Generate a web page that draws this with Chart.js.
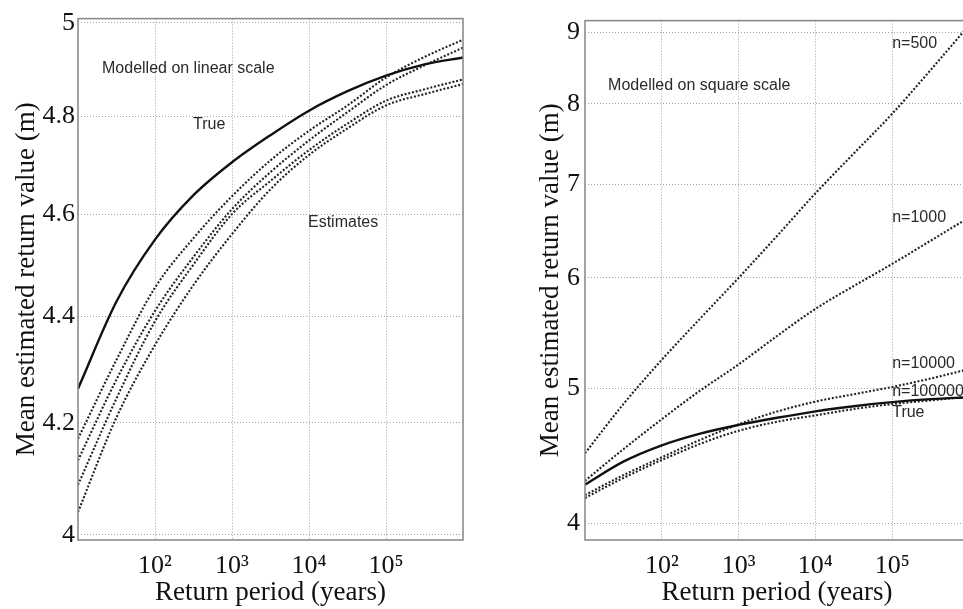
<!DOCTYPE html>
<html>
<head>
<meta charset="utf-8">
<script src="https://cdn.jsdelivr.net/npm/chart.js@4"></script>
<style>
  html, body { margin: 0; padding: 0; background: #fff; overflow: hidden; width: 963px; height: 609px; }
  #left { position: absolute; left: 0; top: 0; width: 480px; height: 609px; }
  #right { position: absolute; left: 480px; top: 0; width: 500px; height: 609px; }
</style>
</head>
<body>
<div id="left"><canvas id="c1"></canvas></div>
<div id="right"><canvas id="c2"></canvas></div>
<script>
// return periods (years), decades and half decades
const returnPeriods = [10, 31.6, 100, 316, 1000, 3162, 10000, 31623, 100000, 316228, 1000000];

// true return level, same curve on both panels
const trueLevel = [4.263, 4.428, 4.549, 4.638, 4.705, 4.761, 4.812, 4.853, 4.886, 4.910, 4.925];

// left panel: estimates modelled on linear scale
const estimate1 = [4.171, 4.317, 4.455, 4.552, 4.636, 4.709, 4.770, 4.823, 4.882, 4.926, 4.963];
const estimate2 = [4.132, 4.28, 4.41, 4.515, 4.61, 4.685, 4.75, 4.809, 4.866, 4.908, 4.946];
const estimate3 = [4.088, 4.245, 4.39, 4.50, 4.60, 4.667, 4.73, 4.785, 4.833, 4.857, 4.878];
const estimate4 = [4.040, 4.21, 4.345, 4.46, 4.56, 4.65, 4.72, 4.775, 4.823, 4.847, 4.868];

// right panel: estimates modelled on square scale, by sample size
const n500 = [4.49, 4.87, 5.24, 5.61, 6.00, 6.43, 6.90, 7.37, 7.87, 8.46, 9.11];
const n1000 = [4.29, 4.52, 4.75, 4.98, 5.20, 5.45, 5.70, 5.92, 6.14, 6.38, 6.63];
const n10000 = [4.19, 4.33, 4.46, 4.59, 4.71, 4.81, 4.89, 4.95, 5.01, 5.08, 5.16];
const n100000 = [4.17, 4.31, 4.44, 4.56, 4.66, 4.73, 4.78, 4.83, 4.87, 4.90, 4.93];

const xTicks = [100, 1000, 10000, 100000];
const leftYTicks = [4, 4.2, 4.4, 4.6, 4.8, 5];
const rightYTicks = [4, 5, 6, 7, 8, 9];

const leftNotes = [
  { text: 'Modelled on linear scale', x: 20.5, y: 4.90 },
  { text: 'True', x: 312, y: 4.782 },
  { text: 'Estimates', x: 9700, y: 4.583 }
];
const rightNotes = [
  { text: 'Modelled on square scale', x: 20, y: 8.24 },
  { text: 'n=500', x: 100000, y: 8.84 },
  { text: 'n=1000', x: 100000, y: 6.63 },
  { text: 'n=10000', x: 100000, y: 5.21 },
  { text: 'n=100000', x: 100000, y: 4.97 },
  { text: 'True', x: 100000, y: 4.80 }
];

const serif = '"Liberation Serif", "DejaVu Serif", serif';
const sup = { 2: '\u00b2', 3: '\u00b3', 4: '\u2074', 5: '\u2075' };

const frameAndNotes = {
  id: 'frameAndNotes',
  beforeDatasetsDraw(chart, args, opts) {
    const { ctx, scales } = chart;
    ctx.save();
    ctx.font = '16px "Liberation Sans", Arial, sans-serif';
    ctx.fillStyle = '#2a2a2a';
    ctx.textBaseline = 'middle';
    (opts.notes || []).forEach(n => {
      ctx.fillText(n.text, scales.x.getPixelForValue(n.x), scales.y.getPixelForValue(n.y));
    });
    ctx.restore();
  },
  afterDraw(chart) {
    const { ctx, chartArea: a } = chart;
    ctx.save();
    ctx.strokeStyle = '#858585';
    ctx.lineWidth = 1.5;
    ctx.strokeRect(a.left, a.top, a.right - a.left, a.bottom - a.top);
    ctx.restore();
  }
};

function line(values, solid) {
  return {
    data: returnPeriods.map((x, i) => ({ x, y: values[i] })),
    borderColor: solid ? '#111' : '#222',
    borderWidth: solid ? 2.4 : 2.1,
    borderDash: solid ? [] : [2, 1.8],
    pointRadius: 0,
    cubicInterpolationMode: 'monotone',
    fill: false
  };
}

function makeChart(id, datasets, yTicks, yMin, yMax, notes, pad, yWidth, titlePad, tickPad) {
  new Chart(document.getElementById(id), {
    type: 'line',
    data: { datasets },
    plugins: [frameAndNotes],
    options: {
      responsive: true,
      maintainAspectRatio: false,
      animation: false,
      layout: { padding: pad },
      plugins: {
        legend: { display: false },
        tooltip: { enabled: false },
        frameAndNotes: { notes }
      },
      scales: {
        x: {
          type: 'logarithmic',
          min: 10,
          max: 1000000,
          afterBuildTicks: s => { s.ticks = xTicks.map(v => ({ value: v })); },
          afterFit: s => { s.height = 69; },
          ticks: {
            autoSkip: false,
            maxRotation: 0,
            padding: 11,
            color: '#111',
            font: { family: serif, size: 26 },
            callback: v => '10' + sup[Math.round(Math.log10(v))]
          },
          grid: { color: '#a0a0a0', lineWidth: 1, drawTicks: false },
          border: { display: false, dash: [1, 2] },
          title: {
            display: true,
            text: 'Return period (years)',
            color: '#111',
            font: { family: serif, size: 27 },
            padding: { top: 0, bottom: 0 }
          }
        },
        y: {
          type: 'logarithmic',
          min: yMin,
          max: yMax,
          afterBuildTicks: s => { s.ticks = yTicks.map(v => ({ value: v })); },
          afterFit: s => { s.width = yWidth; },
          ticks: {
            autoSkip: false,
            padding: tickPad,
            color: '#111',
            font: { family: serif, size: 26 },
            callback: v => String(v)
          },
          grid: { color: '#a0a0a0', lineWidth: 1, drawTicks: false },
          border: { display: false, dash: [1, 2] },
          title: {
            display: true,
            text: 'Mean estimated return value (m)',
            color: '#111',
            font: { family: serif, size: 27 },
            padding: { top: titlePad, bottom: 0 }
          }
        }
      }
    }
  });
}

makeChart('c1',
  [line(trueLevel, true), line(estimate1), line(estimate2), line(estimate3), line(estimate4)],
  leftYTicks, 3.991, 5.009, leftNotes,
  { left: 0, top: 16, right: 17, bottom: 0 }, 78, 11, 3);

makeChart('c2',
  [line(trueLevel, true), line(n500), line(n1000), line(n10000), line(n100000)],
  rightYTicks, 3.89, 9.18, rightNotes,
  { left: 50, top: 15, right: 11, bottom: 0 }, 55, 5, 5);
</script>
</body>
</html>
